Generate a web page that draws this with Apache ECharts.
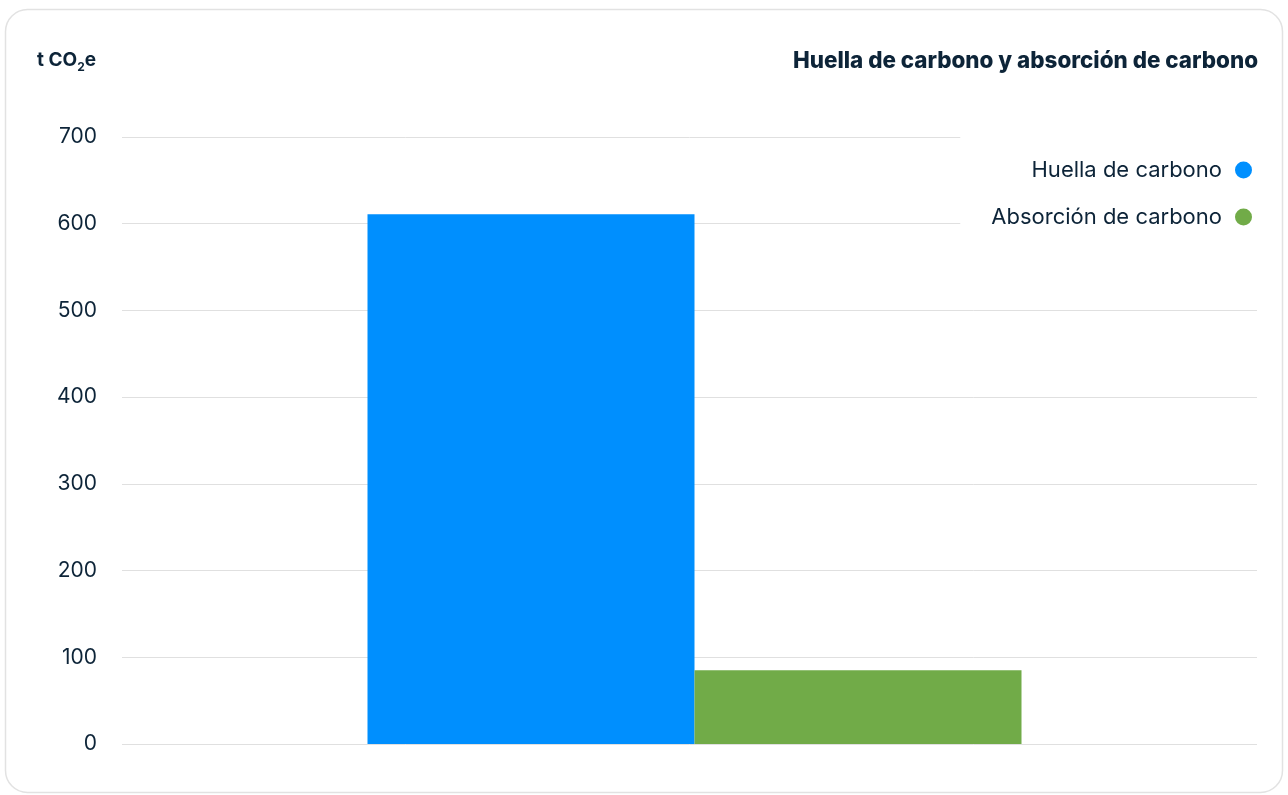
<!DOCTYPE html>
<html>
<head>
<meta charset="utf-8">
<script src="https://cdn.jsdelivr.net/npm/echarts@6/dist/echarts.min.js"></script>
<style>
  html, body { margin: 0; padding: 0; background: #fff; }
  #chart { width: 1288px; height: 795px; }
</style>
</head>
<body>
<div id="chart"></div>
<script>
// Carbon footprint vs. carbon absorption (t CO2e)
const categories = ['Total'];
const seriesNames = ['Huella de carbono', 'Absorción de carbono'];
const footprint = [611];
const absorption = [85];
const yTicks = { min: 0, max: 700, interval: 100 };

const INK = '#0d2438';
const FONT = 'Inter, "Liberation Sans", sans-serif';

const chart = echarts.init(document.getElementById('chart'), null, { renderer: 'canvas' });

chart.setOption({
  animation: false,
  backgroundColor: '#fff',
  textStyle: { fontFamily: FONT, color: INK },
  graphic: [
    {
      type: 'rect', z: -10, silent: true,
      shape: { x: 5.5, y: 9.5, width: 1277, height: 783, r: 22 },
      style: { fill: '#fff', stroke: '#e2e2e2', lineWidth: 1.5 }
    },
    {
      type: 'text', left: 37, top: 48, z: 10,
      style: {
        text: '{u|t CO}{s|2}{u|e}',
        rich: {
          u: { fontFamily: FONT, fontWeight: 700, fontSize: 19, fill: INK, lineHeight: 24 },
          s: { fontFamily: FONT, fontWeight: 700, fontSize: 12, fill: INK, padding: [13, 0, 0, 0], lineHeight: 24 }
        }
      }
    }
  ],
  title: {
    text: 'Huella de carbono y absorción de carbono',
    right: 25, top: 45,
    textStyle: { fontFamily: FONT, fontWeight: 800, fontSize: 22.4, color: INK }
  },
  legend: {
    data: seriesNames,
    orient: 'vertical',
    right: 31, top: 128,
    align: 'right',
    icon: 'circle',
    itemWidth: 17, itemHeight: 17,
    itemGap: 25,
    padding: [31, 5, 40, 31],
    backgroundColor: '#fff',
    z: 5,
    textStyle: { fontFamily: FONT, fontSize: 22, color: INK, lineHeight: 22, padding: [0, 8, 0, 0] }
  },
  // grid 0 holds the bars, grid 1 carries the value labels and split lines
  grid: [
    { left: 132, right: 31, top: 137, bottom: 51 },
    { left: 122, right: 31, top: 137, bottom: 51 }
  ],
  xAxis: [
    {
      type: 'category', gridIndex: 0, data: categories,
      axisLine: { show: false }, axisTick: { show: false }, axisLabel: { show: false }
    },
    {
      type: 'category', gridIndex: 1, data: categories,
      axisLine: { show: false }, axisTick: { show: false }, axisLabel: { show: false }
    }
  ],
  yAxis: [
    {
      type: 'value', gridIndex: 0,
      min: yTicks.min, max: yTicks.max, interval: yTicks.interval,
      axisLine: { show: false }, axisTick: { show: false },
      axisLabel: { show: false }, splitLine: { show: false }
    },
    {
      type: 'value', gridIndex: 1, z: 0,
      min: yTicks.min, max: yTicks.max, interval: yTicks.interval,
      axisLine: { show: false }, axisTick: { show: false },
      axisLabel: { fontFamily: FONT, fontSize: 21, color: INK, margin: 25 },
      splitLine: { lineStyle: { color: '#e0e0e0', width: 1 } }
    }
  ],
  series: [
    {
      name: seriesNames[0], type: 'bar', data: footprint,
      xAxisIndex: 0, yAxisIndex: 0, z: 3,
      barWidth: 327, barGap: '0%',
      itemStyle: { color: '#008ffe' }
    },
    {
      name: seriesNames[1], type: 'bar', data: absorption,
      xAxisIndex: 0, yAxisIndex: 0, z: 3,
      barWidth: 327, barGap: '0%',
      itemStyle: { color: '#71ab48' }
    }
  ]
});
</script>
</body>
</html>
